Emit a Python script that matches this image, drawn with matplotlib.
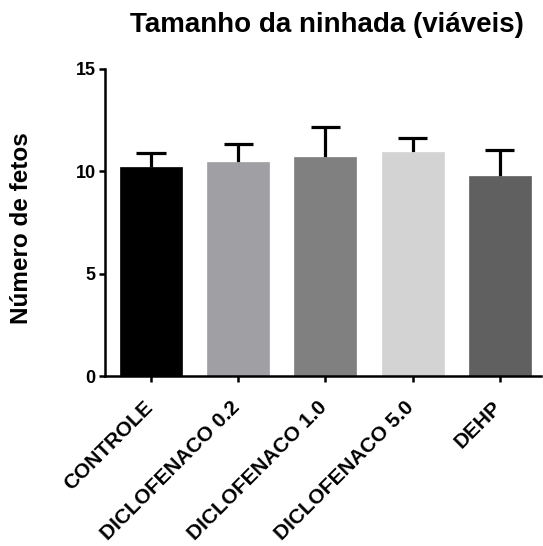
import numpy as np
import matplotlib.pyplot as plt
from matplotlib.transforms import ScaledTranslation

plt.rcParams['font.family'] = ['Liberation Sans', 'DejaVu Sans']
plt.rcParams['font.weight'] = 'bold'

grupos = ['CONTROLE', 'DICLOFENACO 0.2', 'DICLOFENACO 1.0', 'DICLOFENACO 5.0', 'DEHP']
medias = [10.2, 10.46, 10.68, 10.92, 9.75]
erros = [0.69, 0.85, 1.46, 0.70, 1.27]
cores = ['#000000', '#a0a0a4', '#808080', '#d3d3d3', '#606060']

fig = plt.figure(figsize=(5.43, 5.46), dpi=100)
ax = fig.add_axes([0.193, 0.311, 0.803, 0.563])

x = np.arange(len(grupos))
topo = np.array(medias) + np.array(erros)
ax.bar(x, medias, width=0.71, color=cores, edgecolor=cores, linewidth=0.5, zorder=2)
# barra de erro so para cima
ax.vlines(x, medias, topo, color='black', linewidth=2.3, zorder=1)
ax.hlines(topo, x - 0.167, x + 0.167, color='black', linewidth=2.3, zorder=1)

ax.set_xlim(-0.53, 4.47)
ax.set_ylim(0, 15)
ax.set_yticks([0, 5, 10, 15])
ax.set_xticks(x)
ax.set_xticklabels([])
# rotulos girados, um pouco deslocados para baixo/esquerda
desloc = ScaledTranslation(-0.08, -0.21, fig.dpi_scale_trans)
for xi, nome in zip(x, grupos):
    ax.text(xi, 0, nome, transform=ax.get_xaxis_transform() + desloc,
            rotation=45, ha='right', va='top', rotation_mode='anchor',
            fontsize=15, fontweight='bold', clip_on=False)
ax.tick_params(axis='y', labelsize=13, width=1.8, length=4.5, direction='out', pad=2)
ax.tick_params(axis='x', width=1.8, length=4.5, direction='out')
ax.spines['top'].set_visible(False)
ax.spines['right'].set_visible(False)
ax.spines['left'].set_linewidth(1.8)
ax.spines['bottom'].set_linewidth(1.8)

fig.text(0.039, 0.582, 'Número de fetos', rotation=90, ha='center', va='center',
         fontsize=17.5, fontweight='bold')
fig.text(0.603, 0.941, 'Tamanho da ninhada (viáveis)', ha='center', va='baseline',
         fontsize=20, fontweight='bold')

fig.savefig('out.png', dpi=100)
